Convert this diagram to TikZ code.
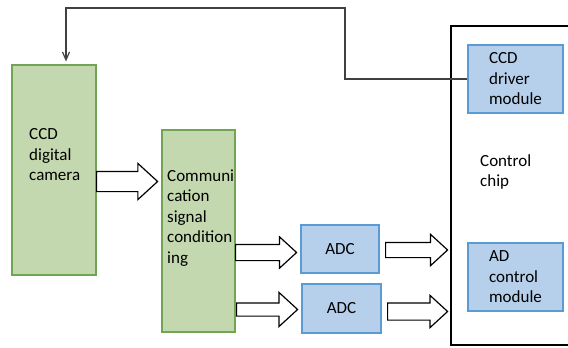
\documentclass[tikz,border=0pt]{standalone}
\usepackage{fontspec}
\setmainfont{Carlito}
\usetikzlibrary{shapes.arrows,arrows.meta}
\definecolor{boxgreen}{HTML}{C4D8B0}
\definecolor{edgegreen}{HTML}{71A455}
\definecolor{boxblue}{HTML}{B6D0EB}
\definecolor{edgeblue}{HTML}{5B9BD5}
\definecolor{wire}{HTML}{404040}
\tikzset{
  greenbox/.style={draw=edgegreen, fill=boxgreen, line width=1.1pt, inner sep=0pt},
  bluebox/.style={draw=edgeblue, fill=boxblue, line width=1.1pt, align=left},
  txt/.style={align=left, anchor=west, inner sep=0pt},
  blockarr/.style={single arrow, draw=black, fill=white, line width=1.2pt,
    single arrow tip angle=85, anchor=west, inner xsep=0pt},
  fb/.style={draw=wire, line width=1.2pt, -{Straight Barb[length=8pt,width=7pt]}}
}
\begin{document}
\begin{tikzpicture}[x=1pt, y=-1pt, font=\fontsize{17}{20.5}\selectfont]
\useasboundingbox (0,0) rectangle (568,348);
% blocks
\node[greenbox, minimum width=84pt, minimum height=210pt] (cam) at (54,170) {};
\node[greenbox, minimum width=73pt, minimum height=202pt] (comm) at (198.5,231) {};
\node[draw=black, line width=1.4pt, minimum width=149pt, minimum height=319pt] (chip) at (525.5,185.5) {};
\node[bluebox, minimum width=78pt, minimum height=48pt] (adca) at (340,249) {ADC};
\node[bluebox, minimum width=79pt, minimum height=49pt] (adcb) at (341.5,308.5) {ADC};
\node[bluebox, minimum width=95pt, minimum height=68pt] (drv) at (515.5,79) {CCD\\driver\\module};
\node[bluebox, minimum width=95pt, minimum height=68pt] (adctl) at (515.5,277) {AD\\control\\module};
% texts
\node[txt] (camtxt) at (29,155) {CCD\\digital\\camera};
\node[txt] (commtxt) at (167,218) {Communi\\cation\\signal\\condition\\ing};
\node[txt] (chiptxt) at (480,172) {Control\\chip};
% wide arrows
\node[blockarr, minimum height=61pt, inner ysep=9.5pt, single arrow head extend=8pt] (a1) at (96,181.5) {};
\node[blockarr, minimum height=61pt, inner ysep=7.5pt, single arrow head extend=7.5pt] (a2) at (235,252.5) {};
\node[blockarr, minimum height=61pt, inner ysep=6pt, single arrow head extend=10.5pt] (a3) at (236,309.5) {};
\node[blockarr, minimum height=62pt, inner ysep=7pt, single arrow head extend=8pt] (a4) at (385,250) {};
\node[blockarr, minimum height=60pt, inner ysep=8pt, single arrow head extend=7.5pt] (a5) at (387,311.5) {};
% feedback line
\coordinate (fbturn) at (345,8);
\draw[fb] (drv.west) -| (fbturn) -| ([xshift=12pt,yshift=3pt]cam.north);
\end{tikzpicture}
\end{document}
